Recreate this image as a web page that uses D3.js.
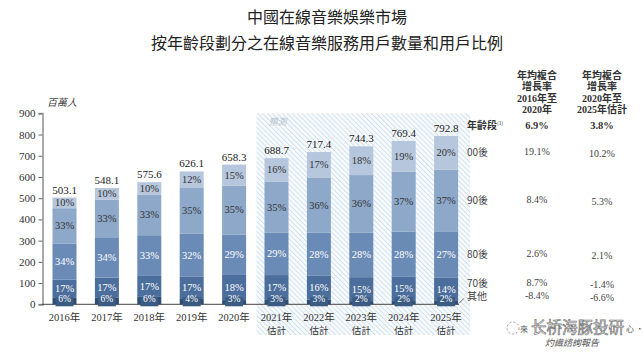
<!DOCTYPE html>
<html>
<head>
<meta charset="utf-8">
<script src="https://cdn.jsdelivr.net/npm/d3@7"></script>
<style>
  body { margin: 0; background: #fff; }
  svg { display: block; }
  .serif { font-family: "Liberation Serif", "Noto Sans CJK TC", serif; }
  .cjk { font-family: "Noto Sans CJK TC", sans-serif; }
</style>
</head>
<body>
<div id="chart"></div>
<script>
// data
var years = ["2016年", "2017年", "2018年", "2019年", "2020年", "2021年", "2022年", "2023年", "2024年", "2025年"];
var forecast = [false, false, false, false, false, true, true, true, true, true];
var totals = [503.1, 548.1, 575.6, 626.1, 658.3, 688.7, 717.4, 744.3, 769.4, 792.8];
var groups = ["其他", "70後", "80後", "90後", "00後"];
// share in % per group, bottom to top
var shareOther = [6, 6, 6, 4, 3, 3, 3, 2, 2, 2];
var share70 = [17, 17, 17, 17, 18, 17, 16, 15, 15, 14];
var share80 = [34, 34, 33, 32, 29, 29, 28, 28, 28, 27];
var share90 = [33, 33, 33, 35, 35, 35, 36, 36, 37, 37];
var share00 = [10, 10, 10, 12, 15, 16, 17, 18, 19, 20];
var cagrHead1 = ["年均複合", "增長率", "2016年至", "2020年"];
var cagrHead2 = ["年均複合", "增長率", "2020年至", "2025年估計"];
var cagrAll = ["6.9%", "3.8%"];
var cagr1620 = ["-8.4%", "8.7%", "2.6%", "8.4%", "19.1%"];
var cagr2025 = ["-6.6%", "-1.4%", "2.1%", "5.3%", "10.2%"];
var yTicks = [0, 100, 200, 300, 400, 500, 600, 700, 800, 900];

var colors = ["#2f4e75", "#4b6e9c", "#6b8bb7", "#8ea8c9", "#b6c6dc"];
var textColors = ["#fff", "#fff", "#fff", "#333", "#333"];

var width = 643, height = 354;
var svg = d3.select("#chart").append("svg").attr("width", width).attr("height", height);

// hatch pattern for the forecast area
var defs = svg.append("defs");
var pat = defs.append("pattern")
    .attr("id", "hatch").attr("width", 3.5).attr("height", 3.5)
    .attr("patternUnits", "userSpaceOnUse")
    .attr("patternTransform", "rotate(-45)");
pat.append("rect").attr("width", 3.5).attr("height", 3.5).attr("fill", "#f7fafc");
pat.append("line").attr("x1", 0).attr("y1", 0).attr("x2", 0).attr("y2", 3.5)
    .attr("stroke", "#c3d9e8").attr("stroke-width", 1.3);

// titles
svg.append("text").attr("class", "cjk").attr("x", 327).attr("y", 23)
    .attr("text-anchor", "middle").attr("font-size", 16).attr("fill", "#222")
    .text("中國在線音樂娛樂市場");
svg.append("text").attr("class", "cjk").attr("x", 327).attr("y", 49)
    .attr("text-anchor", "middle").attr("font-size", 16).attr("fill", "#222")
    .text("按年齡段劃分之在線音樂服務用戶數量和用戶比例");

// scales
var x = d3.scaleBand().domain(years).range([43.3, 467.3]).paddingInner(0.434).paddingOuter(0.217);
var y = d3.scaleLinear().domain([0, 900]).range([304.3, 113.3]);

// forecast box
var fcYears = years.filter(function(d, i) { return forecast[i]; });
var fx0 = x(fcYears[0]) - 8;
svg.append("rect")
    .attr("x", fx0).attr("y", y(900))
    .attr("width", 470 - fx0).attr("height", 335 - y(900))
    .attr("fill", "url(#hatch)");
svg.append("text").attr("class", "serif").attr("x", fx0 + 12).attr("y", 125)
    .attr("font-size", 9).attr("font-style", "italic").attr("fill", "#b5c4cf").text("預測");

// y axis
var yAxis = d3.axisLeft(y).tickValues(yTicks).tickSize(4).tickPadding(3);
var gy = svg.append("g").attr("transform", "translate(42.5,0)").call(yAxis);
gy.select(".domain").attr("stroke", "#aaa").attr("stroke-width", 2);
gy.selectAll(".tick line").attr("stroke", "#666");
gy.selectAll(".tick text").attr("class", "serif").attr("font-size", 11).attr("fill", "#333");

svg.append("text").attr("class", "cjk").attr("x", 47).attr("y", 106)
    .attr("font-size", 10).attr("font-style", "italic").attr("fill", "#444").text("百萬人");

// stack data
var shares = [shareOther, share70, share80, share90, share00];
var dataset = [];
years.forEach(function(yr, i) {
    var sum = 0;
    shares.forEach(function(s) { sum += s[i]; });
    var base = 0;
    shares.forEach(function(s, g) {
        var v = totals[i] * s[i] / sum;
        dataset.push({ year: yr, g: g, y0: base, y1: base + v, pct: s[i] });
        base += v;
    });
});

svg.selectAll(".seg").data(dataset).enter().append("rect")
    .attr("class", "seg")
    .attr("x", function(d) { return x(d.year); })
    .attr("width", x.bandwidth())
    .attr("y", function(d) { return y(d.y1); })
    .attr("height", function(d) { return y(d.y0) - y(d.y1); })
    .attr("fill", function(d) { return colors[d.g]; });

// baseline
svg.append("line").attr("x1", 42).attr("x2", 459).attr("y1", y(0)).attr("y2", y(0))
    .attr("stroke", "#444").attr("stroke-width", 1);

// label boxes for the bottom group
var bottom = dataset.filter(function(d) { return d.g === 0; });
svg.selectAll(".lblbox").data(bottom).enter().append("rect")
    .attr("x", function(d) { return x(d.year) + x.bandwidth() / 2 - 9; })
    .attr("y", y(0) - 7)
    .attr("width", 18).attr("height", 9)
    .attr("fill", "#3b5b83");

// segment labels
svg.selectAll(".seglbl").data(dataset).enter().append("text")
    .attr("class", "serif")
    .attr("x", function(d) { return x(d.year) + x.bandwidth() / 2; })
    .attr("y", function(d) {
        if (d.g === 0) return y(0) - 2.5;
        return y((d.y0 + d.y1) / 2) + 3.5;
    })
    .attr("text-anchor", "middle")
    .attr("font-size", function(d) { return d.g === 0 ? 9.5 : 10.5; })
    .attr("fill", function(d) { return textColors[d.g]; })
    .text(function(d) { return d.pct + "%"; });

// totals
svg.selectAll(".tot").data(totals).enter().append("text")
    .attr("class", "serif")
    .attr("x", function(d, i) { return x(years[i]) + x.bandwidth() / 2; })
    .attr("y", function(d) { return y(d) - 4; })
    .attr("text-anchor", "middle").attr("font-size", 11).attr("fill", "#222")
    .text(function(d) { return d.toFixed(1); });

// x labels
years.forEach(function(yr, i) {
    var cx = x(yr) + x.bandwidth() / 2;
    svg.append("text").attr("class", "serif").attr("x", cx).attr("y", 321)
        .attr("text-anchor", "middle").attr("font-size", 10.5).attr("fill", "#333").text(yr);
    if (forecast[i]) {
        svg.append("text").attr("class", "cjk").attr("x", cx).attr("y", 333.5)
            .attr("text-anchor", "middle").attr("font-size", 9.5).attr("fill", "#333").text("估計");
    }
});

// right side: group labels and CAGR table
var last = dataset.filter(function(d) { return d.year === years[years.length - 1]; });
var col1 = 537, col2 = 602, lx = 467;
var labelY = last.map(function(d) { return y((d.y0 + d.y1) / 2) + 3.5; });
labelY[1] = labelY[1] - 6;
labelY[0] = y(0) - 4;

svg.append("line").attr("x1", 459).attr("y1", y(0) - 1).attr("x2", 464).attr("y2", y(0) - 6)
    .attr("stroke", "#444").attr("stroke-width", 0.8);

groups.forEach(function(gname, g) {
    svg.append("text").attr("class", "cjk").attr("x", lx).attr("y", labelY[g])
        .attr("font-size", 10).attr("fill", "#444").text(gname);
    svg.append("text").attr("class", "serif").attr("x", col1).attr("y", labelY[g] - 1)
        .attr("text-anchor", "middle").attr("font-size", 10).attr("fill", "#444").text(cagr1620[g]);
    svg.append("text").attr("class", "serif").attr("x", col2).attr("y", labelY[g] + 1)
        .attr("text-anchor", "middle").attr("font-size", 10).attr("fill", "#444").text(cagr2025[g]);
});

svg.append("text").attr("class", "cjk").attr("x", lx).attr("y", 129)
    .attr("font-size", 10).attr("font-weight", "bold").attr("fill", "#333")
    .text("年齡段").append("tspan").attr("font-size", 5).attr("dy", -4).attr("font-weight", "normal").text("(1)");
svg.append("text").attr("class", "serif").attr("x", col1).attr("y", 129)
    .attr("text-anchor", "middle").attr("font-size", 10.5).attr("font-weight", "bold").attr("fill", "#333").text(cagrAll[0]);
svg.append("text").attr("class", "serif").attr("x", col2).attr("y", 129)
    .attr("text-anchor", "middle").attr("font-size", 10.5).attr("font-weight", "bold").attr("fill", "#333").text(cagrAll[1]);

[cagrHead1, cagrHead2].forEach(function(lines, c) {
    lines.forEach(function(t, k) {
        svg.append("text").attr("class", "serif").attr("x", c === 0 ? col1 : col2).attr("y", 79 + k * 11.3)
            .attr("text-anchor", "middle").attr("font-size", 10).attr("font-weight", "bold")
            .attr("fill", "#333").text(t);
    });
});

// source + watermark
svg.append("circle").attr("cx", 513).attr("cy", 328).attr("r", 6)
    .attr("fill", "none").attr("stroke", "#999").attr("stroke-dasharray", "2,2");
svg.append("text").attr("class", "cjk").attr("x", 520).attr("y", 331.5)
    .attr("font-size", 8).attr("fill", "#555").text("來");
svg.append("text").attr("class", "cjk").attr("x", 531).attr("y", 333)
    .attr("font-size", 15.5).attr("fill", "#fff").attr("stroke", "#777").attr("stroke-width", 0.7)
    .text("长桥海豚投研");
svg.append("text").attr("class", "cjk").attr("x", 626).attr("y", 331.5)
    .attr("font-size", 8).attr("fill", "#555").text("心 ·");
svg.append("text").attr("class", "cjk").attr("x", 572).attr("y", 346)
    .attr("text-anchor", "middle").attr("font-size", 9).attr("font-style", "italic")
    .attr("fill", "#555").text("灼識諮詢報告");
</script>
</body>
</html>
